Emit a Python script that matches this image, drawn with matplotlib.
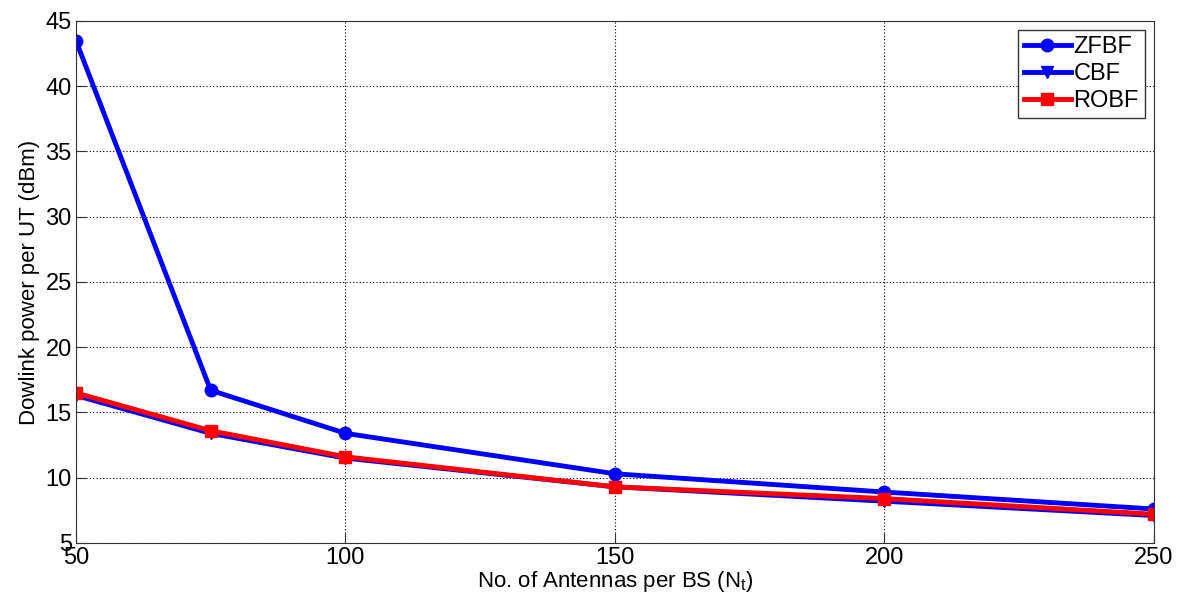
import matplotlib.pyplot as plt

plt.rcParams['font.family'] = ['Liberation Sans', 'DejaVu Sans']

# number of antennas per BS
antennas = [50, 75, 100, 150, 200, 250]
# downlink power per UT, dBm
zfbf = [43.5, 16.7, 13.4, 10.3, 8.9, 7.6]
cbf = [16.3, 13.4, 11.5, 9.3, 8.2, 7.1]
robf = [16.5, 13.6, 11.6, 9.3, 8.4, 7.2]

fig = plt.figure(figsize=(11.86, 6.08), dpi=100)
ax = fig.add_axes([0.064, 0.107, 0.909, 0.8585])

ax.plot(antennas, zfbf, color='blue', lw=3.5, marker='o', ms=9, label='ZFBF')
ax.plot(antennas, cbf, color='blue', lw=3.5, marker='v', ms=9, label='CBF')
ax.plot(antennas, robf, color='red', lw=3.5, marker='s', ms=9, label='ROBF')

ax.set_xlim(50, 250)
ax.set_ylim(5, 45)
ax.set_xticks([50, 100, 150, 200, 250])
ax.set_yticks(range(5, 46, 5))
ax.grid(True, color='black', linestyle=(0, (1, 2)), linewidth=0.8)
ax.tick_params(direction='in', labelsize=17, length=7, color='#333333', pad=3)
for s in ax.spines.values():
    s.set_color('#333333')

ax.set_xlabel('No. of Antennas per BS (N$_\\mathregular{t}$)', fontsize=16, labelpad=0)
ax.set_ylabel('Dowlink power per UT (dBm)', fontsize=16, labelpad=4)

leg = ax.legend(loc='upper right', fontsize=17, fancybox=False, framealpha=1,
                edgecolor='#333333', handlelength=2.0, borderpad=0.25,
                labelspacing=0.2, handletextpad=0.1, borderaxespad=0.4)
leg.get_frame().set_linewidth(1.0)

fig.savefig('out.png', dpi=100)
